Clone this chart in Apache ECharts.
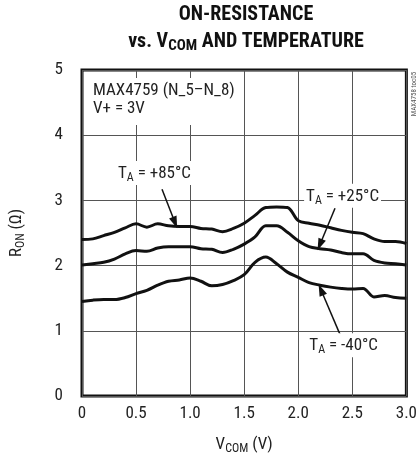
<!DOCTYPE html>
<html>
<head>
<meta charset="utf-8">
<script src="https://cdn.jsdelivr.net/npm/echarts@6/dist/echarts.min.js"></script>
<style>
html,body{margin:0;padding:0;background:#fff;}
#chart{width:420px;height:460px;}
</style>
</head>
<body>
<div id="chart"></div>
<script>
// ---- data ----
const vcom = [0,0.1,0.2,0.3,0.4,0.5,0.6,0.7,0.8,0.9,1.0,1.1,1.2,1.3,1.4,1.5,1.6,1.7,1.8,1.9,2.0,2.1,2.2,2.3,2.4,2.5,2.6,2.7,2.8,2.9,3.0];
const ron85 = [2.40,2.41,2.46,2.51,2.58,2.64,2.59,2.64,2.61,2.60,2.60,2.57,2.56,2.52,2.57,2.65,2.77,2.89,2.90,2.89,2.69,2.65,2.62,2.58,2.54,2.51,2.49,2.41,2.37,2.37,2.34];
const ron25 = [2.01,2.03,2.05,2.10,2.18,2.23,2.22,2.27,2.29,2.29,2.29,2.26,2.25,2.20,2.25,2.33,2.44,2.61,2.61,2.51,2.38,2.29,2.26,2.24,2.20,2.18,2.18,2.08,2.04,2.03,2.01];
const ronM40 = [1.45,1.47,1.48,1.48,1.51,1.57,1.62,1.70,1.76,1.78,1.81,1.76,1.69,1.71,1.77,1.86,2.05,2.13,2.03,1.90,1.82,1.74,1.70,1.67,1.65,1.64,1.65,1.52,1.54,1.51,1.50];
const xTickLabels = ['0','0.5','1.0','1.5','2.0','2.5','3.0'];
const yTickLabels = ['0','1','2','3','4','5'];
const seriesNames = ['+85°C','+25°C','-40°C'];

const FONT = '"Roboto Condensed","DejaVu Sans Condensed",sans-serif';
const TXT = '#222';

const chart = echarts.init(document.getElementById('chart'), null, {renderer:'canvas'});

function pairs(ys){ return vcom.map((x,i)=>[x, ys[i]]); }

const labelRich = {
  m:{fontFamily:FONT,fontSize:17,color:TXT},
  s:{fontFamily:FONT,fontSize:12,color:TXT,padding:[9,0,0,0]}
};

function annot(name, textPos, tail, tip){
  return {
    markPoint:{
      silent:true,
      symbol:'rect', symbolSize:0,
      data:[{coord:textPos, value:name}],
      label:{
        show:true, position:'inside',
        formatter:'{m|T}{s|A}{m| = ' + name + '}',
        backgroundColor:'#fff', padding:[2,2,1,2],
        rich:labelRich
      }
    },
    markLine:{
      silent:true,
      symbol:['none','triangle'],
      symbolSize:[8,12],
      label:{show:false},
      lineStyle:{color:'#111',width:1.5,type:'solid'},
      emphasis:{disabled:true},
      data:[[{coord:tail},{coord:tip}]]
    }
  };
}

const base = {
  type:'line', showSymbol:false, smooth:0.35, silent:true,
  lineStyle:{color:'#111',width:3},
  itemStyle:{color:'#111'}
};

const option = {
  animation:false,
  backgroundColor:'#fff',
  grid:{left:82,right:10,top:70,bottom:63,show:true,borderColor:'#111',borderWidth:3,backgroundColor:'transparent'},
  xAxis:{
    type:'value', min:0, max:3, interval:0.5,
    axisLine:{show:false}, axisTick:{show:false},
    splitLine:{show:true,lineStyle:{color:'#555',width:1}},
    axisLabel:{margin:9,fontFamily:FONT,fontSize:17,color:TXT,
      formatter:(v)=>xTickLabels[Math.round(v/0.5)]},
    name:'{m|V}{s|COM}{m| (V)}',
    nameLocation:'middle', nameGap:38,
    nameTextStyle:{rich:labelRich}
  },
  yAxis:{
    type:'value', min:0, max:5, interval:1,
    axisLine:{show:false}, axisTick:{show:false},
    splitLine:{show:true,lineStyle:{color:'#555',width:1}},
    axisLabel:{margin:19,fontFamily:FONT,fontSize:17,color:TXT,
      formatter:(v)=>yTickLabels[Math.round(v)]},
    name:'{m|R}{s|ON}{m| (Ω)}',
    nameLocation:'middle', nameGap:55,
    nameTextStyle:{rich:labelRich}
  },
  graphic:[
    {type:'text', x:246, y:15, style:{text:'ON-RESISTANCE', font:'bold 20px '+FONT, fill:'#111', align:'center', verticalAlign:'middle'}},
    {type:'text', x:246, y:42, style:{
      text:'{m|vs. V}{s|COM}{m| AND TEMPERATURE}', align:'center', verticalAlign:'middle',
      rich:{m:{fontFamily:FONT,fontWeight:'bold',fontSize:20,fill:'#111'},
            s:{fontFamily:FONT,fontWeight:'bold',fontSize:15,fill:'#111',padding:[8,0,0,0]}}}},
    {type:'rect', shape:{x:84,y:78,width:156,height:47}, style:{fill:'#fff'}, z:5},
    {type:'text', x:93, y:82, z:6, style:{text:'MAX4759 (N_5–N_8)\nV+ = 3V', font:'17px '+FONT, fill:TXT, lineHeight:18}},
    {type:'text', x:414, y:94, rotation:Math.PI/2, z:6, style:{text:'MAX4758 toc05', font:'7px '+FONT, fill:'#555', align:'center', verticalAlign:'middle'}}
  ],
  series:[
    Object.assign({}, base, {name:seriesNames[0], data:pairs(ron85)}, annot('+85°C',[0.67,3.42],[0.74,3.17],[0.86,2.66])),
    Object.assign({}, base, {name:seriesNames[1], data:pairs(ron25)}, annot('+25°C',[2.41,3.07],[2.34,2.88],[2.20,2.32])),
    Object.assign({}, base, {name:seriesNames[2], data:pairs(ronM40)}, annot('-40°C',[2.42,0.78],[2.39,0.93],[2.21,1.63]))
  ]
};
chart.setOption(option);
</script>
</body>
</html>
